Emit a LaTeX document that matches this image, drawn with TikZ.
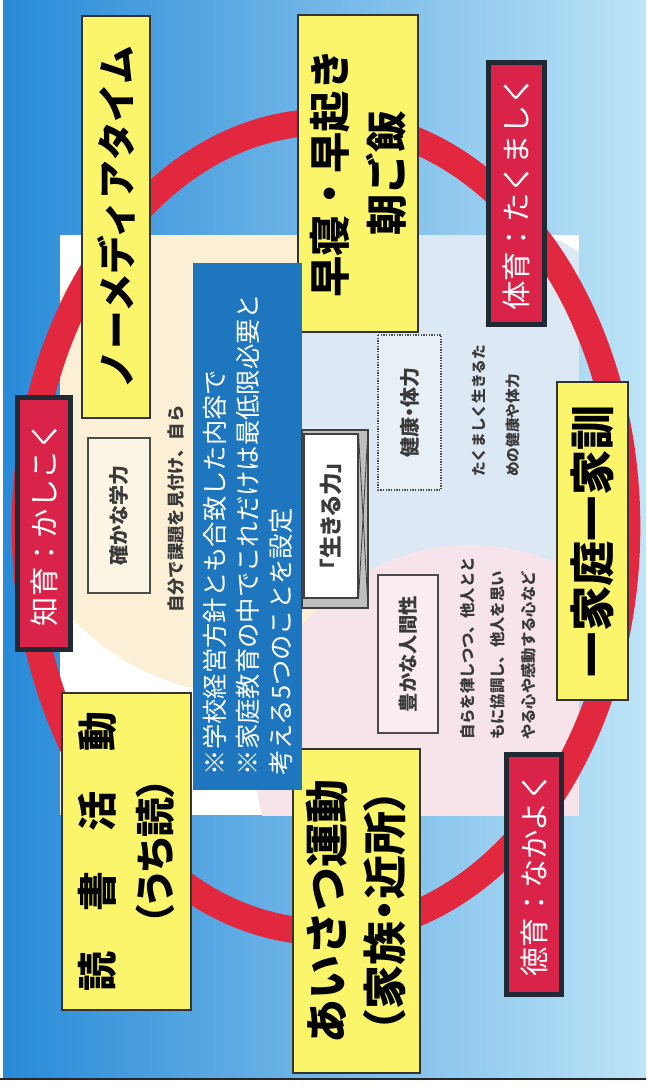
\documentclass[tikz,border=0pt]{standalone}
\usepackage{fontspec}
\setmainfont{Noto Sans CJK JP}
\newfontfamily\jpp[RawFeature=+palt]{Noto Sans CJK JP}
\newcommand\setfs[2]{\fontsize{#1}{#2}\selectfont}
\definecolor{bgleft}{HTML}{288AD8}
\definecolor{bgright}{HTML}{BDE4F7}
\definecolor{ringred}{HTML}{E1283E}
\definecolor{yfill}{HTML}{FAF56A}
\definecolor{rfill}{HTML}{DA2348}
\definecolor{rborder}{HTML}{1F2A35}
\definecolor{bluebox}{HTML}{1E76BE}
\definecolor{cream}{HTML}{FBF0D5}
\definecolor{venblue}{HTML}{DCE8F4}
\definecolor{venpink}{HTML}{F6E4EA}
\definecolor{txtgray}{HTML}{3A3A3A}
\tikzset{
  ybox/.style={draw=black!80, line width=0.9pt, fill=yfill, inner sep=0pt, rotate=90, align=center},
  rbox/.style={draw=rborder, line width=3.6pt, fill=rfill, inner sep=0pt, rotate=90, text=white, font=\setfs{22pt}{26pt}},
  sbox/.style={draw=black!70, line width=1pt, fill=white, fill opacity=0.35, text opacity=1, inner sep=0pt, rotate=90, text=txtgray},
  desc/.style={rotate=90, anchor=west, align=left, inner sep=0pt, text=txtgray}
}
\begin{document}
\begin{tikzpicture}[x=0.75pt,y=-0.75pt]
\useasboundingbox (0,0) rectangle (646,1088);
% background
\fill[white] (0,0) rectangle (646,1088);
\shade[left color=bgleft, right color=bgright] (3,0) rectangle (646,1079);
\draw[black!85, line width=1.2pt] (0,1079) -- (646,1079);
% inner white panel with faint Venn circles
\fill[white] (60,235) rectangle (579,815);
\begin{scope}
  \clip (60,235) rectangle (579,815);
  \fill[cream] (250,450) circle [radius=245];
  \fill[venblue] (470,420) circle [radius=200];
  \fill[venpink] (470,760) circle [radius=215];
\end{scope}
% red ring
\draw[ringred, line width=20pt] (326,527) ellipse [x radius=301, y radius=405];
% yellow boxes
\node[ybox, minimum width={402*0.75pt}, minimum height={68*0.75pt}, font={\setfs{29pt}{34pt}\bfseries}] (nomedia) at (116,217) {ノーメディアタイム};
\node[ybox, minimum width={317*0.75pt}, minimum height={120*0.75pt}, font={\setfs{31pt}{43pt}\bfseries}] (hayane) at (358,173.5) {早寝・早起き\\朝ご飯};
\node[ybox, minimum width={318*0.75pt}, minimum height={71*0.75pt}, font={\setfs{34pt}{40pt}\bfseries}] (kakun) at (592.5,541) {一家庭一家訓};
\node[ybox, minimum width={317*0.75pt}, minimum height={129*0.75pt}, font={\setfs{30pt}{43.5pt}\bfseries}] (dokusho) at (126.5,851.5) {読　書　活　動\\{\jpp （うち読）}};
\node[ybox, minimum width={324*0.75pt}, minimum height={127*0.75pt}, font={\setfs{33pt}{43.5pt}\bfseries}] (aisatsu) at (356.5,911) {あいさつ運動\\{\jpp （家族・近所）}};
% red boxes
\node[rbox, minimum width={252*0.75pt}, minimum height={53*0.75pt}] (chiiku) at (44,523.5) {知育：かしこく};
\node[rbox, minimum width={262*0.75pt}, minimum height={56*0.75pt}] (taiiku) at (516.5,193.5) {体育：たくましく};
\node[rbox, minimum width={240*0.75pt}, minimum height={55*0.75pt}] (tokuiku) at (534,874.5) {徳育：なかよく};
% blue policy box
\node[fill=bluebox, rotate=90, inner sep=0pt, minimum width={527*0.75pt}, minimum height={109*0.75pt}, text width={497*0.75pt}, align=left, text=white, font=\setfs{19pt}{24.75pt}] (policy) at (247.5,526.5) {※学校経営方針とも合致した内容で\\※家庭教育の中でこれだけは最低限必要と\\考える5つのことを設定};
% "ikiru chikara" framed box
\fill[gray!50] (302,430) rectangle (368,608);
\draw[black!75, line width=0.8pt] (302,430) rectangle (368,608);
\node[draw=black!75, fill=white, line width=0.8pt, inner sep=0pt, rotate=90, minimum width={164*0.75pt}, minimum height={54*0.75pt}, text=txtgray, font={\setfs{17pt}{20pt}\bfseries\jpp}] (ikiru) at (331,516) {「生きる力」};
\draw[black!75, line width=0.6pt] (ikiru.south west) -- (368,430);
\draw[black!75, line width=0.6pt] (ikiru.south east) -- (368,608);
\draw[black!75, line width=0.6pt] (ikiru.north east) -- (302,608);
% small labelled boxes
\node[sbox, minimum width={155*0.75pt}, minimum height={62*0.75pt}, font={\setfs{15pt}{18pt}\bfseries}] (gakuryoku) at (119,515.5) {確かな学力};
\node[sbox, densely dotted, line width=1.4pt, minimum width={155*0.75pt}, minimum height={63*0.75pt}, font={\setfs{15pt}{18pt}\bfseries\jpp}] (kenko) at (409.5,412.5) {健康・体力};
\node[sbox, minimum width={158*0.75pt}, minimum height={60*0.75pt}, font={\setfs{14.5pt}{18pt}\bfseries}] (ningen) at (408,654) {豊かな人間性};
% descriptions
\node[desc, font={\setfs{13pt}{16pt}\bfseries}] (descA) at (176,613) {自分で課題を見付け、自ら};
\node[desc, font={\setfs{11pt}{25.5pt}\bfseries}] (descB) at (496,477) {たくましく生きるた\\めの健康や体力};
\node[desc, font={\setfs{11.5pt}{23pt}\bfseries}] (descC) at (498,740) {自らを律しつつ、他人とと\\もに協調し、他人を思い\\やる心や感動する心など};
\end{tikzpicture}
\end{document}
